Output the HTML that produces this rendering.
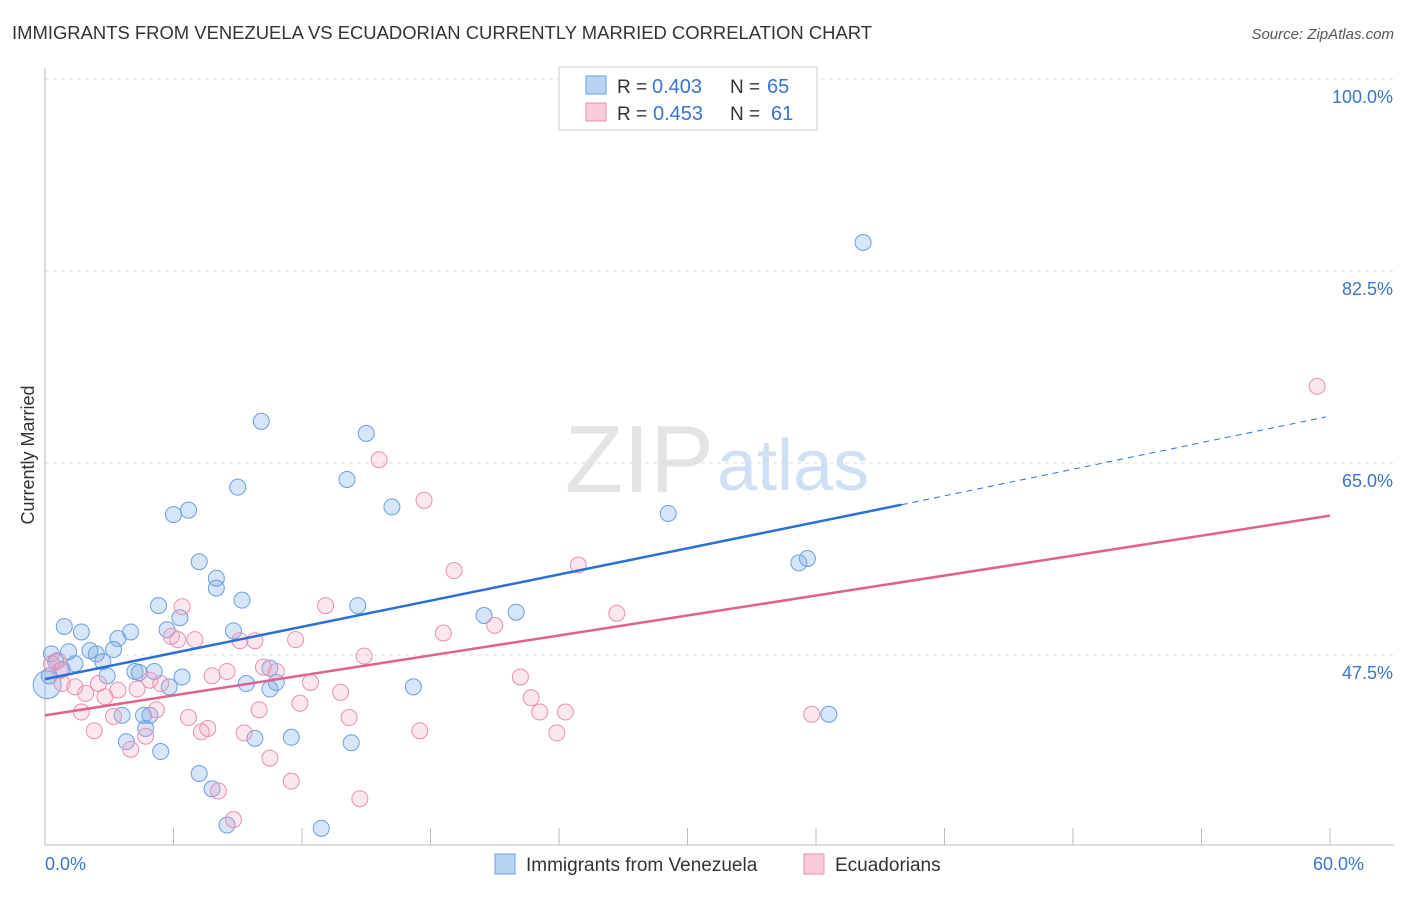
<!DOCTYPE html>
<html><head><meta charset="utf-8"><style>
body{margin:0;background:#fff;font-family:"Liberation Sans",sans-serif}
svg text{font-family:"Liberation Sans",sans-serif}
</style></head><body>
<svg id="chart" width="1406" height="892">
<text x="12" y="39" font-size="18" fill="#333" textLength="860" lengthAdjust="spacingAndGlyphs">IMMIGRANTS FROM VENEZUELA VS ECUADORIAN CURRENTLY MARRIED CORRELATION CHART</text>
<text x="1394" y="39" font-size="15" font-style="italic" fill="#555" text-anchor="end">Source: ZipAtlas.com</text>
<text x="714" y="492" font-size="96" font-family="Liberation Serif" fill="#e4e4e4" text-anchor="end">ZIP</text>
<text x="717" y="490" font-size="72" fill="#d0e0f4">atlas</text>
<g id="grid"></g>
<g id="axes"></g>
<g id="marks"></g>
<text transform="translate(34,455) rotate(-90)" font-size="18" fill="#333" text-anchor="middle">Currently Married</text>
<g>
<rect x="559" y="67" width="258" height="63" fill="#fff" stroke="#ccc"/>
<rect x="586" y="76" width="20" height="18" fill="#b8d4f4" stroke="#6a9fe0"/>
<rect x="586" y="103" width="20" height="18" fill="#f9cbd9" stroke="#e890b0"/>
<text x="617" y="93" font-size="19" fill="#333">R =</text>
<text x="652" y="93" font-size="20" fill="#3a74d0">0.403</text>
<text x="730" y="93" font-size="19" fill="#333">N =</text>
<text x="767" y="93" font-size="20" fill="#3a74d0">65</text>
<text x="617" y="120" font-size="19" fill="#333">R =</text>
<text x="653" y="120" font-size="20" fill="#3a74d0">0.453</text>
<text x="730" y="120" font-size="19" fill="#333">N =</text>
<text x="771" y="120" font-size="20" fill="#3a74d0">61</text>
</g>
<g>
<rect x="495" y="854" width="20" height="20" fill="#b8d4f4" stroke="#6a9fe0"/>
<text x="526" y="871" font-size="19" fill="#333">Immigrants from Venezuela</text>
<rect x="804" y="854" width="20" height="20" fill="#f9cbd9" stroke="#e890b0"/>
<text x="835" y="871" font-size="19" fill="#333">Ecuadorians</text>
</g>
</svg>
<script>
const yTicks=[100,82.5,65,47.5];
const xTickVals=[0,6,12,18,24,30,36,42,48,54,60];
const blueX=[38.2,10.1,15.0,14.1,9.0,16.2,6.7,6.0,29.1,35.2,35.6,7.2,8.0,8.0,9.2,5.3,14.6,22.0,20.5,6.3,0.9,1.7,4.0,5.7,8.8,3.4,3.2,2.1,2.4,1.1,0.3,0.5,1.4,2.7,0.8,0.2,2.9,4.2,5.1,4.4,6.4,10.5,10.8,9.4,10.5,5.8,17.2,3.6,4.6,4.9,36.6,4.7,3.8,9.8,11.5,14.3,5.4,7.2,7.8,8.5,12.9,0.1];
const blueY=[85.1,68.8,67.7,63.5,62.8,61.0,60.7,60.3,60.4,55.9,56.3,56.0,54.5,53.6,52.5,52.0,52.0,51.4,51.1,50.9,50.1,49.6,49.6,49.8,49.7,49.0,48.0,47.9,47.6,47.8,47.6,46.9,46.7,46.9,46.2,45.6,45.6,46.0,46.0,45.9,45.5,46.3,45.0,44.9,44.4,44.6,44.6,42.0,42.0,42.0,42.1,40.8,39.6,39.9,40.0,39.5,38.7,36.7,35.3,32.0,31.7,44.8];
const pinkX=[59.4,15.6,17.7,19.1,24.9,6.4,13.1,26.7,21.0,18.6,5.9,6.2,7.0,9.1,9.8,11.7,14.9,0.6,10.2,10.8,8.5,7.8,22.2,4.9,5.4,12.4,0.8,1.4,2.5,3.4,4.3,1.9,2.8,13.8,11.9,22.7,1.7,5.2,10.0,23.1,24.3,3.2,6.7,14.2,35.8,2.3,7.3,7.6,4.7,9.3,17.5,23.9,4.0,10.5,11.5,8.1,8.8,14.7,0.3,0.7];
const pinkY=[72.0,65.3,61.6,55.2,55.7,51.9,52.0,51.3,50.2,49.5,49.2,48.9,48.9,48.8,48.8,48.9,47.4,47.0,46.4,46.0,46.0,45.6,45.5,45.2,44.9,45.0,44.9,44.6,44.9,44.3,44.4,44.0,43.7,44.1,43.1,43.6,42.3,42.5,42.5,42.3,42.3,41.9,41.8,41.8,42.1,40.6,40.5,40.8,40.1,40.4,40.6,40.4,38.9,38.1,36.0,35.1,32.5,34.4,46.7,46.1];
const blueLine=[[0,45.3],[40,61.2],[59.8,69.2]];
const pinkLine=[[0,42.0],[60,60.2]];
const X=v=>45+v/60*1285, Y=v=>79+(100-v)/17.5*192;
const NS="http://www.w3.org/2000/svg";
function mk(p,t,a){const e=document.createElementNS(NS,t);for(const k in a)e.setAttribute(k,a[k]);document.getElementById(p).appendChild(e);return e;}
yTicks.forEach(v=>{
 const l=mk('grid','line',{x1:45,x2:1394,y1:Y(v),y2:Y(v),stroke:'#ddd','stroke-dasharray':'4,4'});
 
 
 const t=mk('grid','text',{x:1393,y:Y(v)+24,'font-size':18,fill:'#3a74d0','text-anchor':'end'});t.textContent=v.toFixed(1)+'%';
 
 
});
mk('axes','line',{x1:45,x2:45,y1:68,y2:845,stroke:'#bbb'});
mk('axes','line',{x1:45,x2:1394,y1:845,y2:845,stroke:'#bbb'});
xTickVals.forEach(v=>{const l=mk('axes','line',{x1:X(v),x2:X(v),y1:828,y2:845,stroke:'#bbb'});
 
 });
[[0,'start'],[60,'end']].forEach(([v,a])=>{const t=mk('axes','text',{x:X(v)+(a=='start'?0:34),y:870,'font-size':18,fill:'#3a74d0','text-anchor':a});t.textContent=v.toFixed(1)+'%';
 
 });
blueX.forEach((x,i)=>{const c=mk('marks','circle',{cx:X(x),cy:Y(blueY[i]),r:i==blueX.length-1?14:8,fill:'rgba(120,170,230,0.3)',stroke:'#6a9fe0','stroke-width':1});
 
 });
pinkX.forEach((x,i)=>{const c=mk('marks','circle',{cx:X(x),cy:Y(pinkY[i]),r:8,fill:'rgba(244,160,190,0.25)',stroke:'#e890b0','stroke-width':1});
 
 });
let b=mk('marks','line',{x1:X(blueLine[0][0]),y1:Y(blueLine[0][1]),x2:X(blueLine[1][0]),y2:Y(blueLine[1][1]),stroke:'#2a6fd6','stroke-width':2.5});


let bd=mk('marks','line',{x1:X(blueLine[1][0]),y1:Y(blueLine[1][1]),x2:X(blueLine[2][0]),y2:Y(blueLine[2][1]),stroke:'#2a6fd6','stroke-width':1,'stroke-dasharray':'6,5'});


let p=mk('marks','line',{x1:X(pinkLine[0][0]),y1:Y(pinkLine[0][1]),x2:X(pinkLine[1][0]),y2:Y(pinkLine[1][1]),stroke:'#e06090','stroke-width':2.5});


</script>
</body></html>
